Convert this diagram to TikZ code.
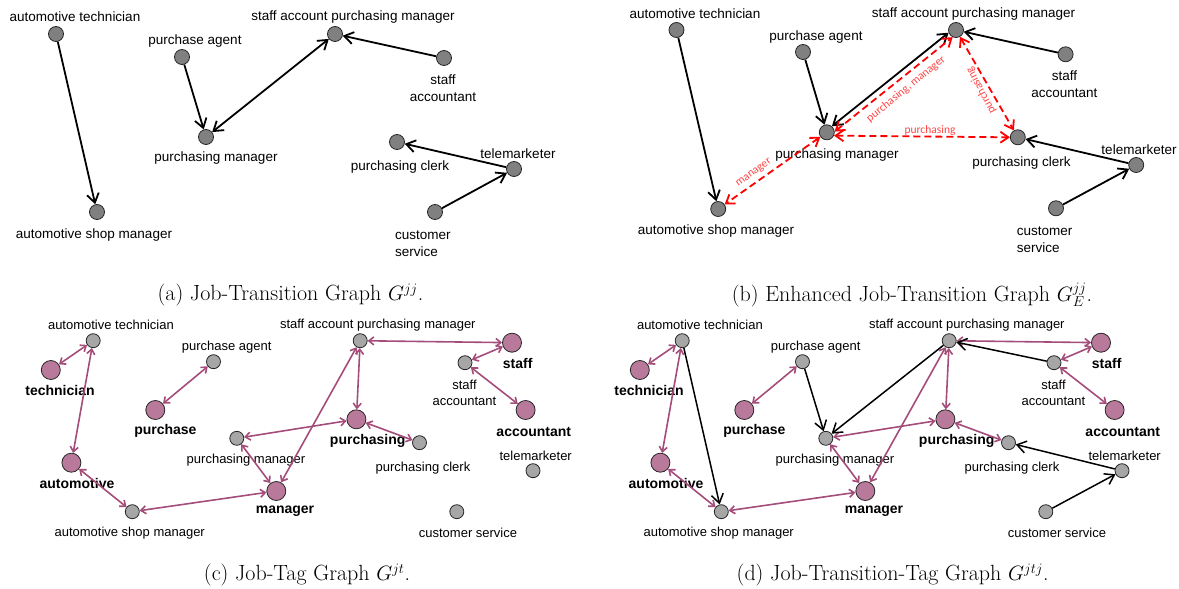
\documentclass[tikz,border=0pt]{standalone}
\usepackage{fontspec}
\newfontfamily\jobfont{Liberation Sans}
\newfontfamily\edgefont{Carlito}
\usetikzlibrary{arrows.meta}
\definecolor{tagfill}{RGB}{185,121,154}
\definecolor{tagline}{RGB}{165,77,122}
\definecolor{enh}{RGB}{255,0,0}
\definecolor{enhtext}{RGB}{255,70,70}

\begin{document}
\begin{tikzpicture}[x=1pt,y=-1pt,
  job/.style={circle,draw=black!85,fill=black!50,line width=0.8pt,minimum size=15pt,inner sep=0pt},
  jobl/.style={circle,draw=black!85,fill=black!35,line width=0.8pt,minimum size=14pt,inner sep=0pt},
  tag/.style={circle,draw=black!85,fill=tagfill,line width=0.8pt,minimum size=19pt,inner sep=0pt},
  txt/.style={font=\jobfont\fontsize{13.5}{17}\selectfont,inner sep=0pt,align=center},
  txts/.style={font=\jobfont\fontsize{13}{16.5}\selectfont,inner sep=0pt,align=center},
  tagtxt/.style={font=\jobfont\bfseries\fontsize{14}{17}\selectfont,inner sep=0pt},
  edgetxt/.style={font=\edgefont\fontsize{11.5}{13}\selectfont,text=enhtext,inner sep=0pt},
  captxt/.style={font=\fontsize{22}{25}\selectfont,inner sep=0pt},
  trans/.style={line width=1.8pt,-{Straight Barb[length=9pt,width=12pt]}},
  trans2/.style={line width=1.8pt,{Straight Barb[length=9pt,width=12pt]}-{Straight Barb[length=9pt,width=12pt]}},
  enhanced/.style={draw=enh,line width=1.8pt,dash pattern=on 7pt off 4pt,{Straight Barb[length=8pt,width=11pt]}-{Straight Barb[length=8pt,width=11pt]}},
  tagarr/.style={draw=tagline,line width=1.6pt,{Straight Barb[length=5pt,width=8pt]}-{Straight Barb[length=5pt,width=8pt]}}]

\useasboundingbox (0,0) rectangle (1179,589);

% (a) Job-Transition Graph

\node[job] (a-tech) at (56,34) {};
\node[job] (a-pa) at (182,57) {};
\node[job] (a-sapm) at (335,34) {};
\node[job] (a-sa) at (444,58) {};
\node[job] (a-pm) at (206,137) {};
\node[job] (a-pc) at (397,142) {};
\node[job] (a-tm) at (514,169) {};
\node[job] (a-cs) at (435,212) {};
\node[job] (a-asm) at (97,212) {};

\node[txt] (a-tech-l) at (75,17) {automotive technician};
\node[txt] (a-pa-l) at (195,41) {purchase agent};
\node[txt] (a-sapm-l) at (353,17) {staff account purchasing manager};
\node[txt] (a-sa-l) at (443,88.5) {staff\\accountant};
\node[txt] (a-pm-l) at (216,158) {purchasing manager};
\node[txt] (a-pc-l) at (400,167) {purchasing clerk};
\node[txt] (a-tm-l) at (518,154) {telemarketer};
\node[txt,align=left,anchor=west] (a-cs-l) at (395,243.5) {customer\\service};
\node[txt] (a-asm-l) at (94,235) {automotive shop manager};

\draw[trans] (a-tech) -- (a-asm);
\draw[trans] (a-pa) -- (a-pm);
\draw[trans2] (a-pm) -- (a-sapm);
\draw[trans] (a-sa) -- (a-sapm);
\draw[trans] (a-tm) -- (a-pc);
\draw[trans] (a-cs) -- (a-tm);

\node[captxt] (a-cap) at (290.5,295) {(a) Job-Transition Graph $G^{jj}$.};

% (b) Enhanced Job-Transition Graph

\node[job] (b-tech) at (676.5,30) {};
\node[job] (b-pa) at (803,52) {};
\node[job] (b-sapm) at (956,30) {};
\node[job] (b-sa) at (1065.6,54.3) {};
\node[job] (b-pm) at (826.8,132.3) {};
\node[job] (b-pc) at (1017.8,137.3) {};
\node[job] (b-tm) at (1136.2,165) {};
\node[job] (b-cs) at (1056,208.3) {};
\node[job] (b-asm) at (718.2,209) {};

\node[txt] (b-tech-l) at (695,14) {automotive technician};
\node[txt] (b-pa-l) at (816,37) {purchase agent};
\node[txt] (b-sapm-l) at (973.5,14) {staff account purchasing manager};
\node[txt] (b-sa-l) at (1064.4,84.5) {staff\\accountant};
\node[txt] (b-pm-l) at (837,155) {purchasing manager};
\node[txt] (b-pc-l) at (1021.6,163.3) {purchasing clerk};
\node[txt] (b-tm-l) at (1139,150) {telemarketer};
\node[txt,align=left,anchor=west] (b-cs-l) at (1016.7,239.2) {customer\\service};
\node[txt] (b-asm-l) at (716,230.7) {automotive shop manager};

\draw[trans] (b-tech) -- (b-asm);
\draw[trans] (b-pa) -- (b-pm);
\draw[trans2] (b-pm.50) -- (b-sapm.200);
\draw[trans] (b-sa) -- (b-sapm);
\draw[trans] (b-tm) -- (b-pc);
\draw[trans] (b-cs) -- (b-tm);

%enhanced edges
\draw[enhanced] (b-pm.5) -- (b-sapm.245);
\draw[enhanced] (b-pm) -- (b-asm);
\draw[enhanced] (b-pm.-25) -- (b-pc.west);
\draw[enhanced] (b-sapm) -- (b-pc);

\node[edgetxt,rotate=39] (b-e1) at (906,89) {purchasing, manager};
\node[edgetxt,rotate=36] (b-e2) at (754,173) {manager};
\node[edgetxt] (b-e3) at (930,130.5) {purchasing};
\node[edgetxt,rotate=118] (b-e4) at (981,90.5) {purchasing};

\node[captxt] (b-cap) at (912,295) {(b) Enhanced Job-Transition Graph $G_{E}^{jj}$.};

% (c) Job-Tag Graph

\node[jobl] (c-tech) at (93.2,340.7) {};
\node[jobl] (c-pa) at (213.5,361.7) {};
\node[jobl] (c-sapm) at (360.2,340.7) {};
\node[jobl] (c-sa) at (465,362.7) {};
\node[jobl] (c-pm) at (236.8,438.3) {};
\node[jobl] (c-pc) at (419.5,442.7) {};
\node[jobl] (c-tm) at (533,470.7) {};
\node[jobl] (c-cs) at (456.8,511.7) {};
\node[jobl] (c-asm) at (132.3,511.7) {};

\node[tag] (c-t-tech) at (50.8,370) {};
\node[tag] (c-t-purchase) at (155.3,410) {};
\node[tag] (c-t-auto) at (71.4,462.7) {};
\node[tag] (c-t-mgr) at (276.3,491) {};
\node[tag] (c-t-purch) at (356.4,419.3) {};
\node[tag] (c-t-staff) at (512,342.7) {};
\node[tag] (c-t-acct) at (525.6,410) {};

\node[txts] (c-tech-l) at (110.9,325) {automotive technician};
\node[txts] (c-pa-l) at (226.7,346.7) {purchase agent};
\node[txts] (c-sapm-l) at (377.8,325) {staff account purchasing manager};
\node[txts] (c-sa-l) at (464.5,393) {staff\\accountant};
\node[txts] (c-pm-l) at (246,460) {purchasing manager};
\node[txts] (c-pc-l) at (423,468.3) {purchasing clerk};
\node[txts] (c-tm-l) at (535.7,455.7) {telemarketer};
\node[txts] (c-cs-l) at (468,532.7) {customer service};
\node[txts] (c-asm-l) at (129.7,532.7) {automotive shop manager};

\node[tagtxt] (c-t-tech-l) at (60,390.7) {technician};
\node[tagtxt] (c-t-purchase-l) at (165.4,430.7) {purchase};
\node[tagtxt] (c-t-auto-l) at (77,483.3) {automotive};
\node[tagtxt] (c-t-mgr-l) at (285,511.7) {manager};
\node[tagtxt] (c-t-purch-l) at (367.7,440.7) {purchasing};
\node[tagtxt] (c-t-staff-l) at (517.7,363.3) {staff};
\node[tagtxt] (c-t-acct-l) at (533.8,431.7) {accountant};

\draw[tagarr] (c-tech) -- (c-t-tech);
\draw[tagarr] (c-tech) -- (c-t-auto);
\draw[tagarr] (c-t-auto) -- (c-asm);
\draw[tagarr] (c-asm) -- (c-t-mgr);
\draw[tagarr] (c-pm) -- (c-t-mgr);
\draw[tagarr] (c-pm) -- (c-t-purch);
\draw[tagarr] (c-pa) -- (c-t-purchase);
\draw[tagarr] (c-sapm) -- (c-t-purch);
\draw[tagarr] (c-sapm) -- (c-t-mgr);
\draw[tagarr] (c-sapm) -- (c-t-staff);
\draw[tagarr] (c-sa) -- (c-t-staff);
\draw[tagarr] (c-sa) -- (c-t-acct);
\draw[tagarr] (c-t-purch) -- (c-pc);

\node[captxt] (c-cap) at (307,575) {(c) Job-Tag Graph $G^{jt}$.};

% (d) Job-Transition-Tag Graph

\node[jobl] (d-tech) at (682.2,340.7) {};
\node[jobl] (d-pa) at (802.5,361.7) {};
\node[jobl] (d-sapm) at (949.2,340.7) {};
\node[jobl] (d-sa) at (1054,362.7) {};
\node[jobl] (d-pm) at (825.8,438.3) {};
\node[jobl] (d-pc) at (1008.5,442.7) {};
\node[jobl] (d-tm) at (1122,470.7) {};
\node[jobl] (d-cs) at (1045.8,511.7) {};
\node[jobl] (d-asm) at (721.3,511.7) {};

\node[tag] (d-t-tech) at (639.8,370) {};
\node[tag] (d-t-purchase) at (744.3,410) {};
\node[tag] (d-t-auto) at (660.4,462.7) {};
\node[tag] (d-t-mgr) at (865.3,491) {};
\node[tag] (d-t-purch) at (945.4,419.3) {};
\node[tag] (d-t-staff) at (1101,342.7) {};
\node[tag] (d-t-acct) at (1114.6,410) {};

\node[txts] (d-tech-l) at (699.9,325) {automotive technician};
\node[txts] (d-pa-l) at (815.7,346.7) {purchase agent};
\node[txts] (d-sapm-l) at (966.8,325) {staff account purchasing manager};
\node[txts] (d-sa-l) at (1053.5,393) {staff\\accountant};
\node[txts] (d-pm-l) at (835,460) {purchasing manager};
\node[txts] (d-pc-l) at (1012,468.3) {purchasing clerk};
\node[txts] (d-tm-l) at (1124.7,455.7) {telemarketer};
\node[txts] (d-cs-l) at (1057,532.7) {customer service};
\node[txts] (d-asm-l) at (718.7,532.7) {automotive shop manager};

\node[tagtxt] (d-t-tech-l) at (649,390.7) {technician};
\node[tagtxt] (d-t-purchase-l) at (754.4,430.7) {purchase};
\node[tagtxt] (d-t-auto-l) at (666,483.3) {automotive};
\node[tagtxt] (d-t-mgr-l) at (874,511.7) {manager};
\node[tagtxt] (d-t-purch-l) at (956.7,440.7) {purchasing};
\node[tagtxt] (d-t-staff-l) at (1106.7,363.3) {staff};
\node[tagtxt] (d-t-acct-l) at (1122.8,431.7) {accountant};

\draw[tagarr] (d-tech) -- (d-t-tech);
\draw[tagarr] (d-tech) -- (d-t-auto);
\draw[tagarr] (d-t-auto) -- (d-asm);
\draw[tagarr] (d-asm) -- (d-t-mgr);
\draw[tagarr] (d-pm) -- (d-t-mgr);
\draw[tagarr] (d-pm) -- (d-t-purch);
\draw[tagarr] (d-pa) -- (d-t-purchase);
\draw[tagarr] (d-sapm) -- (d-t-purch);
\draw[tagarr] (d-sapm) -- (d-t-mgr);
\draw[tagarr] (d-sapm) -- (d-t-staff);
\draw[tagarr] (d-sa) -- (d-t-staff);
\draw[tagarr] (d-sa) -- (d-t-acct);
\draw[tagarr] (d-t-purch) -- (d-pc);

\draw[trans,line width=1.5pt] (d-tech) -- (d-asm);
\draw[trans,line width=1.5pt] (d-pa) -- (d-pm);
\draw[trans,line width=1.5pt] (d-sapm) -- (d-pm);
\draw[trans,line width=1.5pt] (d-sa) -- (d-sapm);
\draw[trans,line width=1.5pt] (d-tm) -- (d-pc);
\draw[trans,line width=1.5pt] (d-cs) -- (d-tm);

\node[captxt] (d-cap) at (892.6,575) {(d) Job-Transition-Tag Graph $G^{jtj}$.};
\end{tikzpicture}
\end{document}
